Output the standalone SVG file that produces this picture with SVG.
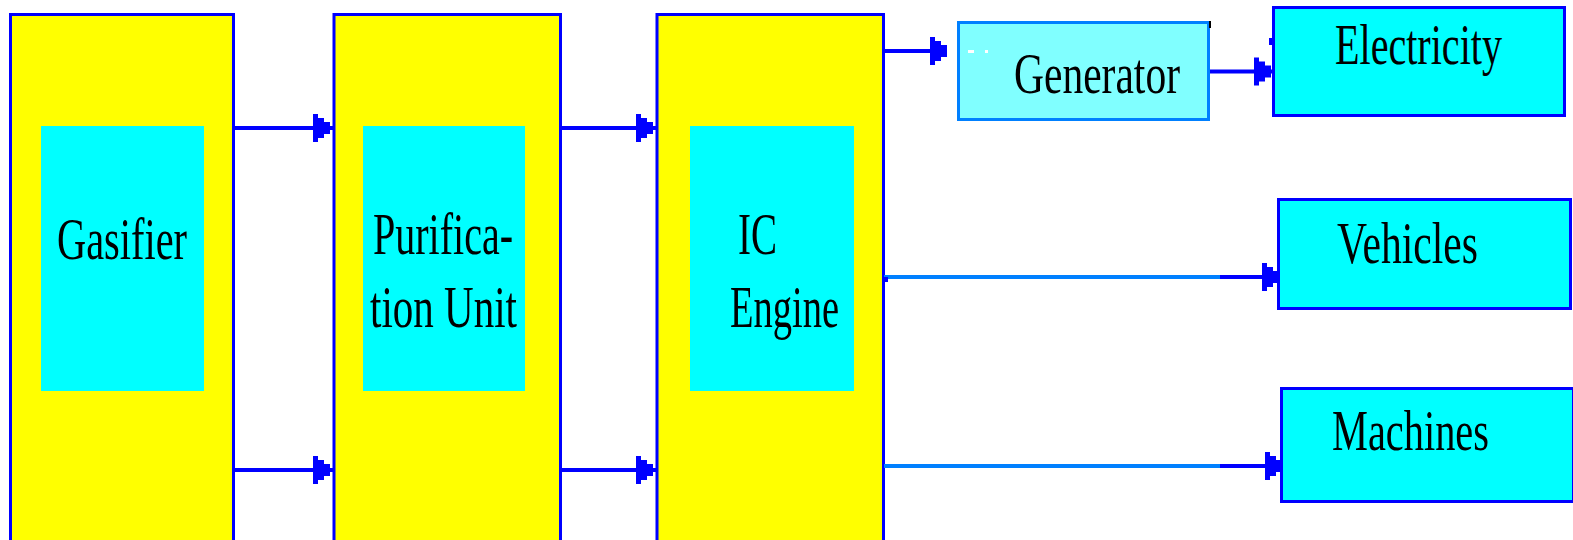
<svg xmlns="http://www.w3.org/2000/svg" width="1573" height="540" viewBox="0 0 1573 540">
<style>
.stage{fill:#FFFF00;stroke:#0000FF;stroke-width:3}
.inner{fill:#00FFFF;stroke:none}
.out{fill:#00FFFF;stroke:#0000FF;stroke-width:3}
.gen{fill:#80FFFF;stroke:#0080FF;stroke-width:3}
.lbl{font-family:"Liberation Serif","Times New Roman",serif;fill:#000000}
.ln{stroke:#0000FF;stroke-width:4;fill:none}
.lnl{stroke:#0080FF;stroke-width:4;fill:none}
.ah{fill:#0000FF}
</style>
<defs>
<path id="ah" d="M-17,-14 H-12 V-10 H-6 V-6 H0 V6 H-6 V10 H-12 V14 H-17 Z"/>
</defs>
<rect width="1573" height="540" fill="#FFFFFF"/>
<g id="gasifier">
<rect class="stage" x="10.5" y="14.5" width="223" height="540"/>
<rect class="inner" x="41" y="126" width="163" height="265"/>
<text class="lbl" x="57" y="259" font-size="60" textLength="130" lengthAdjust="spacingAndGlyphs">Gasifier</text>
</g>
<g id="purification">
<rect class="stage" x="334" y="14.5" width="226.5" height="540" stroke-width="2.5"/>
<rect class="inner" x="363" y="126" width="162" height="265"/>
<text class="lbl" x="373" y="254" font-size="60" textLength="140" lengthAdjust="spacingAndGlyphs">Purifica-</text>
<text class="lbl" x="370" y="327" font-size="60" textLength="147" lengthAdjust="spacingAndGlyphs">tion Unit</text>
</g>
<g id="ic-engine">
<rect class="stage" x="657" y="14.5" width="226.5" height="540" stroke-width="2.5"/>
<rect class="inner" x="690" y="126" width="164" height="265"/>
<text class="lbl" x="738" y="254" font-size="60" textLength="39" lengthAdjust="spacingAndGlyphs">IC</text>
<text class="lbl" x="730" y="327" font-size="60" textLength="109" lengthAdjust="spacingAndGlyphs">Engine</text>
</g>
<g id="generator">
<rect class="gen" x="958.5" y="22.5" width="250" height="97"/>
<rect x="968" y="50" width="6" height="3" fill="#FFFFFF"/>
<rect x="985" y="50" width="3" height="3" fill="#FFFFFF"/>
<rect x="1209" y="21" width="2" height="7" fill="#000000"/>
<text class="lbl" x="1014" y="93" font-size="56" textLength="166" lengthAdjust="spacingAndGlyphs">Generator</text>
</g>
<g id="electricity">
<rect class="out" x="1273.5" y="7.5" width="291" height="108"/>
<text class="lbl" x="1335" y="64" font-size="56" textLength="167" lengthAdjust="spacingAndGlyphs">Electricity</text>
</g>
<g id="vehicles">
<rect class="out" x="1278.5" y="199.5" width="292" height="109"/>
<text class="lbl" x="1337" y="263" font-size="60" textLength="141" lengthAdjust="spacingAndGlyphs">Vehicles</text>
</g>
<g id="machines">
<rect class="out" x="1281.5" y="388.5" width="292" height="113"/>
<text class="lbl" x="1332" y="450" font-size="58" textLength="157" lengthAdjust="spacingAndGlyphs">Machines</text>
</g>
<g id="connectors">
<line class="ln" x1="235" y1="128" x2="333" y2="128"/>
<use href="#ah" class="ah" x="330" y="128"/>
<line class="ln" x1="235" y1="470" x2="333" y2="470"/>
<use href="#ah" class="ah" x="330" y="470"/>
<line class="ln" x1="561" y1="128" x2="656" y2="128"/>
<use href="#ah" class="ah" x="653" y="128"/>
<line class="ln" x1="561" y1="470" x2="656" y2="470"/>
<use href="#ah" class="ah" x="653" y="470"/>
<line class="ln" x1="885" y1="51" x2="945" y2="51"/>
<use href="#ah" class="ah" x="947" y="51"/>
<line class="ln" x1="1210" y1="71.5" x2="1272" y2="71.5"/>
<use href="#ah" class="ah" x="1271" y="71.5"/>
<rect x="1269" y="38" width="3" height="7" fill="#0000FF"/>
<line class="lnl" x1="884" y1="277" x2="1220" y2="277"/>
<line class="ln" x1="1220" y1="277" x2="1278" y2="277"/>
<rect x="882" y="277" width="6" height="5" fill="#0000FF"/>
<use href="#ah" class="ah" x="1279" y="277"/>
<line class="lnl" x1="884" y1="466" x2="1220" y2="466"/>
<line class="ln" x1="1220" y1="466" x2="1281" y2="466"/>
<use href="#ah" class="ah" x="1282" y="466"/>
</g>
</svg>
